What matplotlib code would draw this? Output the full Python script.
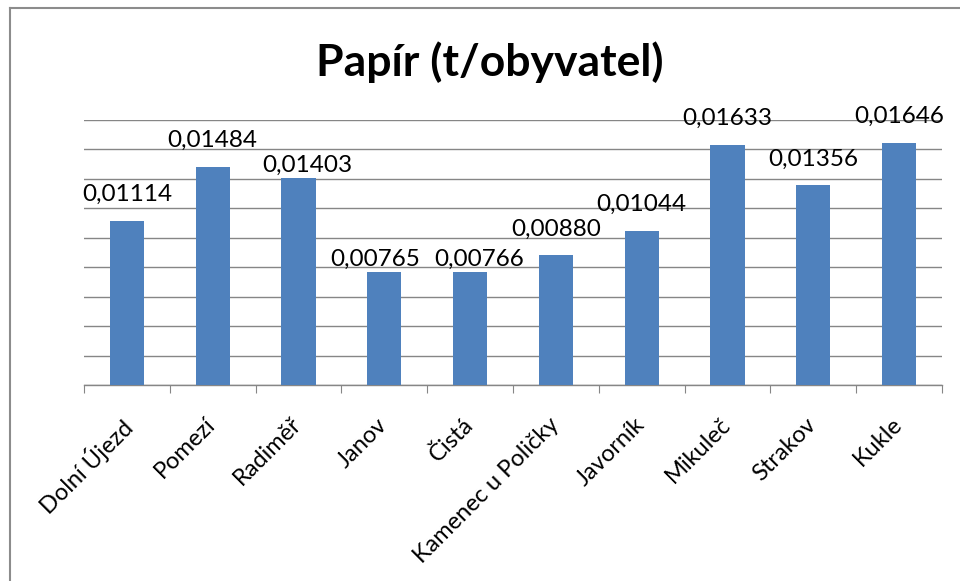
import matplotlib
matplotlib.use("Agg")
import matplotlib.pyplot as plt
from matplotlib.lines import Line2D
from matplotlib.transforms import ScaledTranslation

categories = ["Dolní Újezd", "Pomezí", "Radiměř", "Janov", "Čistá",
              "Kamenec u Poličky", "Javorník", "Mikuleč", "Strakov", "Kukle"]
values = [0.01114, 0.01484, 0.01403, 0.00765, 0.00766,
          0.00880, 0.01044, 0.01633, 0.01356, 0.01646]
labels = ["0,01114", "0,01484", "0,01403", "0,00765", "0,00766",
          "0,00880", "0,01044", "0,01633", "0,01356", "0,01646"]
title = "Papír (t/obyvatel)"

plt.rcParams['font.family'] = ['Lato', 'DejaVu Sans']

fig = plt.figure(figsize=(9.6, 5.81), dpi=100)
W, H = 960, 581
ax = fig.add_axes([84 / W, 1 - 385 / H, (942 - 84) / W, (385 - 120) / H])

x = list(range(len(categories)))
ax.bar(x, values, width=0.4, color="#4F81BD", zorder=3)
ax.set_xlim(-0.5, len(categories) - 0.5)
ax.set_ylim(0, 0.018)
ax.set_yticks([i * 0.002 for i in range(10)])
ax.yaxis.grid(True, color="#868686", linewidth=1.0, zorder=0)
ax.tick_params(axis='y', left=False, labelleft=False)
for s in ["top", "right", "left"]:
    ax.spines[s].set_visible(False)
ax.spines["bottom"].set_color("#868686")
ax.spines["bottom"].set_linewidth(1.0)

ax.set_xticks([i - 0.5 for i in range(len(categories) + 1)], minor=False)
ax.set_xticklabels([])
ax.tick_params(axis='x', which='major', length=6, color="#868686", direction='out')
ax.set_xticks(x, minor=True)
ax.set_xticklabels(categories, minor=True, rotation=45, ha='right',
                   rotation_mode='anchor', fontsize=17)
ax.tick_params(axis='x', which='minor', length=0, pad=15)
shift = ScaledTranslation(-8 / 100, -8 / 100, fig.dpi_scale_trans)
for lbl in ax.get_xticklabels(minor=True):
    lbl.set_transform(lbl.get_transform() + shift)

# data labels: default distance above bar, Excel-like collision handling
far_px, near_px, shift_px, cap_px = 20.0, 6.5, 9.0, 17.0
px2pt = 72.0 / fig.dpi
texts = []
for xi, v, lab in zip(x, values, labels):
    t = ax.annotate(lab, (xi, v), xytext=(0, far_px * px2pt), textcoords='offset points',
                    ha='center', va='baseline', fontsize=17.5, color="black")
    texts.append(t)

fig.canvas.draw()
renderer = fig.canvas.get_renderer()
n = len(texts)
widths = [t.get_window_extent(renderer).width for t in texts]
tops = [ax.transData.transform((xi, v)) for xi, v in zip(x, values)]
dx = [0.0] * n
dy = [far_px] * n


def box(i):
    cx, cy = tops[i]
    cx += dx[i]
    base = cy + dy[i]
    return (cx - widths[i] / 2, cx + widths[i] / 2, base, base + cap_px)


tol = 0.02 * max(values)
for i in range(n - 1):
    j = i + 1
    a0, a1, ab, at = box(i)
    b0, b1, bb, bt = box(j)
    if a1 + 4 > b0 and ab < bt and bb < at:
        if abs(values[i] - values[j]) < tol:
            dy[i] = dy[j] = near_px
            dx[i] -= shift_px
            dx[j] += shift_px
        elif values[i] < values[j]:
            dy[i] = near_px
            dx[i] -= shift_px
        else:
            dy[j] = near_px
            dx[j] += shift_px

for t, ddx, ddy in zip(texts, dx, dy):
    t.xyann = (ddx * px2pt, ddy * px2pt)

fig.text(490 / W, 1 - 62 / H, title, ha='center', va='center',
         fontsize=32, fontweight='bold')

# outer chart border (partially visible)
fig.add_artist(Line2D([9.5 / W, 9.5 / W], [0, 1 - 8 / H], transform=fig.transFigure,
                      color="#8c8c8c", linewidth=1.5))
fig.add_artist(Line2D([9.5 / W, 1], [1 - 8 / H, 1 - 8 / H], transform=fig.transFigure,
                      color="#8c8c8c", linewidth=1.5))

fig.savefig("out.png", dpi=100)
